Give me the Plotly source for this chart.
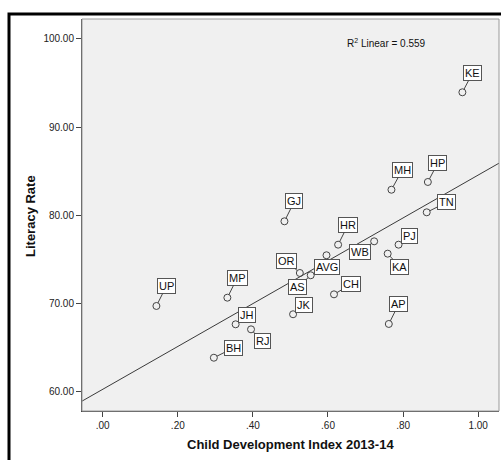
import numpy as np
import plotly.graph_objects as go

# State codes, Child Development Index 2013-14 and literacy rate
states = ["KE", "HP", "MH", "TN", "GJ", "HR", "WB", "PJ", "KA", "AVG",
          "OR", "AS", "CH", "JK", "AP", "UP", "MP", "JH", "RJ", "BH"]
cdi = [0.958, 0.866, 0.769, 0.863, 0.484, 0.627, 0.723, 0.788, 0.759, 0.596,
       0.525, 0.554, 0.616, 0.507, 0.762, 0.143, 0.332, 0.354, 0.395, 0.296]
literacy = [93.95, 83.78, 82.90, 80.34, 79.32, 76.67, 77.05, 76.67, 75.65, 75.47,
            73.46, 73.20, 71.04, 68.78, 67.68, 69.72, 70.66, 67.64, 67.07, 63.85]

x_tickvals = [0.0, 0.2, 0.4, 0.6, 0.8, 1.0]
x_ticktext = [".00", ".20", ".40", ".60", ".80", "1.00"]
y_tickvals = [60, 70, 80, 90, 100]
y_ticktext = ["60.00", "70.00", "80.00", "90.00", "100.00"]

r2_text = "R<sup>2</sup> Linear = 0.559"

# Pixel offsets of each label box from its point
label_offsets = {
    "KE": (10, -19), "HP": (10, -19), "MH": (11, -20), "TN": (20, -10),
    "GJ": (10, -20), "HR": (10, -20), "WB": (-14, 11), "PJ": (11, -9),
    "KA": (12, 13), "AVG": (1, 12), "OR": (-13, -12), "AS": (-13, 12),
    "CH": (17, -10), "JK": (11, -9), "AP": (10, -20), "UP": (10, -20),
    "MP": (10, -20), "JH": (11, -9), "RJ": (11, 12), "BH": (20, -10),
}

x_range = [-0.0552, 1.0555]
y_range = [57.81, 102.26]

FONT = "Liberation Sans, Arial, sans-serif"

# Least-squares fit line across the full x range
slope, intercept = np.polyfit(cdi, literacy, 1)
fit_x = np.array(x_range)
fit_y = intercept + slope * fit_x

fig = go.Figure()

fig.add_trace(go.Scatter(
    x=fit_x, y=fit_y, mode="lines",
    line=dict(color="#3a3a3a", width=1),
    hoverinfo="skip", showlegend=False,
))

fig.add_trace(go.Scatter(
    x=cdi, y=literacy, mode="markers",
    marker=dict(symbol="circle-open", size=7, color="#444444",
                line=dict(width=1, color="#444444")),
    text=states, showlegend=False,
))

annotations = []
for s, xv, yv in zip(states, cdi, literacy):
    ax, ay = label_offsets[s]
    annotations.append(dict(
        x=xv, y=yv, xref="x", yref="y", text=s,
        showarrow=True, ax=ax, ay=ay, arrowhead=0, arrowwidth=1,
        arrowcolor="#444444", standoff=3.5,
        font=dict(family=FONT, size=11, color="#111111"),
        bgcolor="#ffffff", bordercolor="#555555", borderwidth=1, borderpad=1,
    ))

annotations.append(dict(
    x=(386 - 82) / 417, y=(411 - 43) / 392, xref="paper", yref="paper",
    text=r2_text, showarrow=False, xanchor="center", yanchor="middle",
    font=dict(family=FONT, size=10, color="#111111"),
))

annotations.append(dict(
    x=(30 - 82) / 417, y=(411 - 216) / 392, xref="paper", yref="paper",
    text="<b>Literacy Rate</b>", showarrow=False, textangle=-90,
    xanchor="center", yanchor="middle",
    font=dict(family=FONT, size=13, color="#111111"),
))

annotations.append(dict(
    x=(290 - 82) / 417, y=(411 - 444) / 392, xref="paper", yref="paper",
    text="<b>Child Development Index 2013-14</b>", showarrow=False,
    xanchor="center", yanchor="middle",
    font=dict(family=FONT, size=13, color="#111111"),
))

shapes = [
    # plot frame
    dict(type="rect", xref="paper", yref="paper", x0=0, y0=0, x1=1, y1=1,
         line=dict(color="#9a9a9a", width=1), layer="above"),
    # outer chart border
    dict(type="rect", xref="paper", yref="paper",
         x0=(9 - 82) / 417, y0=-0.3, x1=1.2, y1=(411 - 14) / 392,
         line=dict(color="#000000", width=3), layer="above"),
]

fig.update_layout(
    width=501, height=460,
    margin=dict(l=82, r=2, t=19, b=49),
    paper_bgcolor="#ffffff", plot_bgcolor="#f0f0f0",
    font=dict(family=FONT, size=10, color="#222222"),
    annotations=annotations, shapes=shapes,
    showlegend=False,
)

fig.update_xaxes(
    range=x_range, tickvals=x_tickvals, ticktext=x_ticktext,
    showgrid=False, zeroline=False, showline=True, linecolor="#444444",
    linewidth=1, ticks="outside", ticklen=5, tickcolor="#444444",
    tickfont=dict(family=FONT, size=10, color="#222222"),
)
fig.update_yaxes(
    range=y_range, tickvals=y_tickvals, ticktext=y_ticktext,
    showgrid=False, zeroline=False, showline=True, linecolor="#444444",
    linewidth=1, ticks="outside", ticklen=5, tickcolor="#444444",
    tickfont=dict(family=FONT, size=10, color="#222222"),
)

fig.write_html("out.html")
